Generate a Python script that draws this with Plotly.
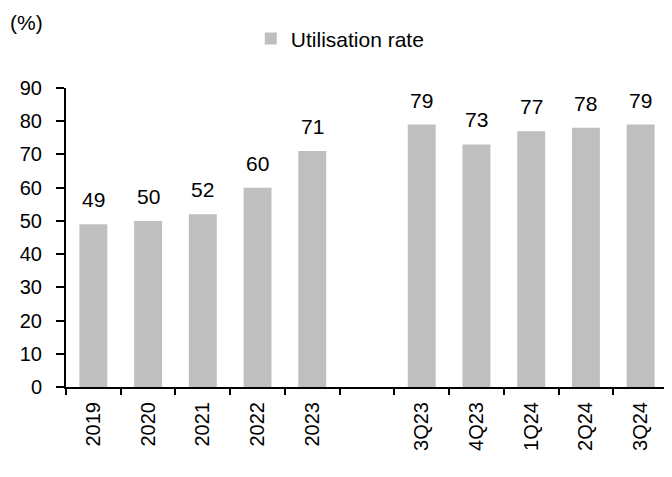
import plotly.graph_objects as go

categories = ["2019", "2020", "2021", "2022", "2023", " ",
              "3Q23", "4Q23", "1Q24", "2Q24", "3Q24"]
utilisation = [49, 50, 52, 60, 71, None, 79, 73, 77, 78, 79]

BAR_GREY = "#bfbfbf"
FONT = "Liberation Sans, Arial, sans-serif"

fig = go.Figure()
fig.add_trace(go.Bar(
    x=categories, y=utilisation, name="Utilisation rate",
    marker=dict(color=BAR_GREY, line_width=0),
))

# value labels above each bar (category index, since "2019" etc. would be
# read as a numeric position on a category axis)
for i, val in enumerate(utilisation):
    if val is None:
        continue
    fig.add_annotation(x=i, y=val, text=str(val), showarrow=False,
                       yanchor="bottom", yshift=11,
                       font=dict(size=21, color="#000000", family=FONT))

fig.add_annotation(x=0, y=1, xref="paper", yref="paper", xanchor="left",
                   yanchor="middle", xshift=-58, yshift=66, text="(%)",
                   showarrow=False, font=dict(size=21, color="#000000",
                                              family=FONT))

# the page body adds an 8px offset, so the figure is sized to fit inside it
fig.update_layout(
    width=664, height=469,
    margin=dict(l=58, r=4, t=80, b=90),
    paper_bgcolor="white", plot_bgcolor="white",
    bargap=0.49,
    font=dict(family=FONT, size=20, color="#000000"),
    showlegend=True,
    legend=dict(orientation="h", x=0.307, xanchor="left", y=1.164,
                yanchor="middle", font=dict(size=21), bgcolor="rgba(0,0,0,0)",
                itemwidth=30),
)
fig.update_xaxes(
    type="category", categoryorder="array", categoryarray=categories,
    showline=True, linecolor="#000000", linewidth=2,
    ticks="outside", tickson="boundaries", ticklen=6, tickwidth=2,
    tickcolor="#000000", tickangle=-90, showgrid=False, zeroline=False,
    tickfont=dict(size=20), ticklabelstandoff=5,
)
fig.update_yaxes(
    range=[0, 90], dtick=10, showline=True, linecolor="#000000",
    linewidth=2, ticks="outside", ticklen=8, tickwidth=2,
    tickcolor="#000000", showgrid=False, zeroline=False,
    tickfont=dict(size=20), ticklabelstandoff=10,
)

fig.write_html("out.html")
